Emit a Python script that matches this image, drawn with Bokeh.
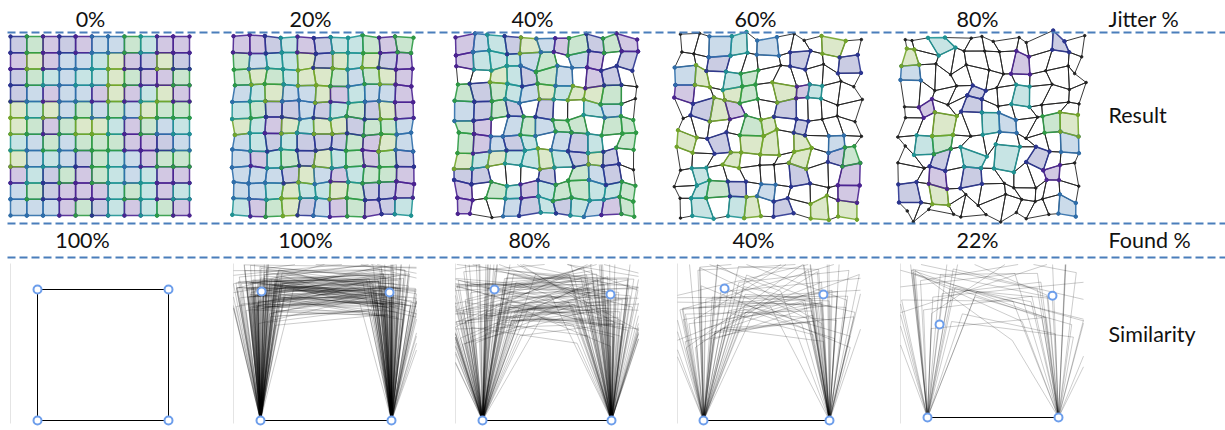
import numpy as np
from bokeh.plotting import figure
from bokeh.models import Range1d
from bokeh.core.properties import value
from bokeh.embed import file_html
from bokeh.resources import INLINE

# ---- values ---------------------------------------------------------------
jitter_pct = [0, 20, 40, 60, 80]
found_pct = [100, 100, 80, 40, 22]
jitter_labels = ["0%", "20%", "40%", "60%", "80%"]
found_labels = ["100%", "100%", "80%", "40%", "22%"]
row_labels = ["Jitter %", "Result", "Found %", "Similarity"]

# mean matched top corners, in the frame where the bottom edge runs (0,0)->(1,0)
mean_top_left_x = [0.0, 0.008, 0.093, 0.167, 0.092]
mean_top_left_y = [1.0, 0.985, 1.016, 1.048, 0.710]
mean_top_right_x = [1.0, 0.985, 0.992, 0.952, 0.954]
mean_top_right_y = [1.0, 0.977, 0.977, 1.000, 0.930]

n_cells = 11
mesh_seeds = [3, 11, 23, 37, 51]
palette = ["#4b2391", "#2b3590", "#2f6eaa", "#1f9393", "#2e9a45", "#73a52a"]

# ---- layout ---------------------------------------------------------------
W, H = 1225, 430
FONT = value("Lato")
FS = "21.5px"
mesh_left = [10, 233, 456, 678, 901]
mesh_top = 36
mesh_size = 179
sim_left = [10, 233, 455, 677, 900]
sim_origin_x = [37, 260, 482, 703, 927]
sim_origin_y = [420, 420, 420, 420, 417]
sim_scale = [131, 131, 129, 126, 131]
sim_clip_top, sim_clip_bottom, sim_clip_w = 264, 423, 183
top_label_x = [90, 310, 532, 755, 977]
bottom_label_x = [82, 305, 529, 753, 977]
side_x = 1108

p = figure(width=W, height=H, x_range=Range1d(0, W), y_range=Range1d(H, 0),
           output_backend="svg", toolbar_location=None, min_border=0,
           x_axis_type=None, y_axis_type=None)
p.grid.visible = False
p.outline_line_color = None
p.background_fill_color = "white"


def clip_segment(x0, y0, x1, y1, xmin, xmax, ymin, ymax):
    """Liang-Barsky clipping; returns None when the segment is outside."""
    dx, dy = x1 - x0, y1 - y0
    t0, t1 = 0.0, 1.0
    for pk, qk in ((-dx, x0 - xmin), (dx, xmax - x0), (-dy, y0 - ymin), (dy, ymax - y0)):
        if pk == 0:
            if qk < 0:
                return None
        else:
            t = qk / pk
            if pk < 0:
                t0 = max(t0, t)
            else:
                t1 = min(t1, t)
    if t0 > t1:
        return None
    return x0 + t0 * dx, y0 + t0 * dy, x0 + t1 * dx, y0 + t1 * dy


cs = mesh_size / n_cells
nv = n_cells + 1

for k in range(5):
    rng = np.random.default_rng(mesh_seeds[k])
    amp = jitter_pct[k] / 100.0
    gi, gj = np.meshgrid(np.arange(nv), np.arange(nv), indexing="ij")
    X = gi + rng.uniform(-0.5, 0.5, (nv, nv)) * amp
    Y = gj + rng.uniform(-0.5, 0.5, (nv, nv)) * amp
    Z = X + 1j * Y

    def to_px(z):
        return mesh_left[k] + z.real * cs, mesh_top + (n_cells - z.imag) * cs

    cells, tls, trs, devs = [], [], [], []
    for i in range(n_cells):
        for j in range(n_cells):
            z0, z1, z2, z3 = Z[i, j], Z[i + 1, j], Z[i + 1, j + 1], Z[i, j + 1]
            tl = (z3 - z0) / (z1 - z0)
            tr = (z2 - z0) / (z1 - z0)
            cells.append((z0, z1, z2, z3))
            tls.append(tl)
            trs.append(tr)
            devs.append(abs(tl - 1j) ** 2 + abs(tr - (1 + 1j)) ** 2)
    devs = np.array(devs)
    n_found = int(round(found_pct[k] / 100.0 * len(cells)))
    score = devs * rng.uniform(0.8, 1.25, len(cells))
    found = set(np.argsort(score)[:n_found].tolist())
    colour_idx = rng.integers(0, len(palette), len(cells))

    # unmatched cells: plain outlines
    ox, oy = [], []
    for c, quad in enumerate(cells):
        if c in found:
            continue
        xs, ys = to_px(np.array(quad))
        ox.append(list(xs))
        oy.append(list(ys))
    if ox:
        p.patches(ox, oy, fill_color=None, line_color="#222222", line_width=1, line_alpha=0.9)
    vx, vy = to_px(Z.ravel())
    p.scatter(vx, vy, size=2.5, color="#222222")

    # matched cells: tinted quads
    fx, fy, fc = [], [], []
    dx_, dy_, dc = [], [], []
    for c in sorted(found):
        xs, ys = to_px(np.array(cells[c]))
        fx.append(list(xs))
        fy.append(list(ys))
        fc.append(palette[colour_idx[c]])
        dx_.extend(xs)
        dy_.extend(ys)
        dc.extend([palette[colour_idx[c]]] * 4)
    p.patches(fx, fy, fill_color=fc, fill_alpha=0.25, line_color=fc, line_alpha=0.9, line_width=1.5)
    p.scatter(dx_, dy_, size=3.5, color=dc)

    # similarity view of matched cells
    ox0, oy0, L = sim_origin_x[k], sim_origin_y[k], sim_scale[k]
    xmin, xmax = sim_left[k], sim_left[k] + sim_clip_w
    sx0, sy0, sx1, sy1 = [], [], [], []
    for c in sorted(found):
        pts = [0 + 0j, tls[c], trs[c], 1 + 0j]
        for a, b in zip(pts, pts[1:] + pts[:1]):
            seg = clip_segment(ox0 + a.real * L, oy0 - a.imag * L,
                               ox0 + b.real * L, oy0 - b.imag * L,
                               xmin, xmax, sim_clip_top, sim_clip_bottom)
            if seg:
                sx0.append(seg[0]); sy0.append(seg[1]); sx1.append(seg[2]); sy1.append(seg[3])
    p.segment([xmin], [sim_clip_top - 1], [xmin], [sim_clip_bottom], line_color="#e4e4e4", line_width=1)
    p.segment(sx0, sy0, sx1, sy1, line_color="black", line_alpha=0.2, line_width=1)
    cx = [0.0, 1.0, mean_top_left_x[k], mean_top_right_x[k]]
    cy = [0.0, 0.0, mean_top_left_y[k], mean_top_right_y[k]]
    p.scatter([ox0 + u * L for u in cx], [oy0 - v * L for v in cy], size=8,
              line_color="#6d9eeb", line_width=2, fill_color="white")

# dashed separators
for yy in (32, 223, 257):
    p.segment([7], [yy], [W], [yy], line_color="#4a7ebb", line_width=2, line_dash="8 4")

# labels
p.text(top_label_x, [18] * 5, text=jitter_labels, text_font=FONT, text_font_size=FS,
       text_align="center", text_baseline="alphabetic", text_color="#111111")
p.text(bottom_label_x, [239] * 5, text=found_labels, text_font=FONT, text_font_size=FS,
       text_align="center", text_baseline="alphabetic", text_color="#111111")
p.text([side_x] * 4, [18, 114, 239, 333], text=row_labels, text_font=FONT, text_font_size=FS,
       text_align="left", text_baseline="alphabetic", text_color="#111111")

open("out.html", "w").write(file_html(p, INLINE))
